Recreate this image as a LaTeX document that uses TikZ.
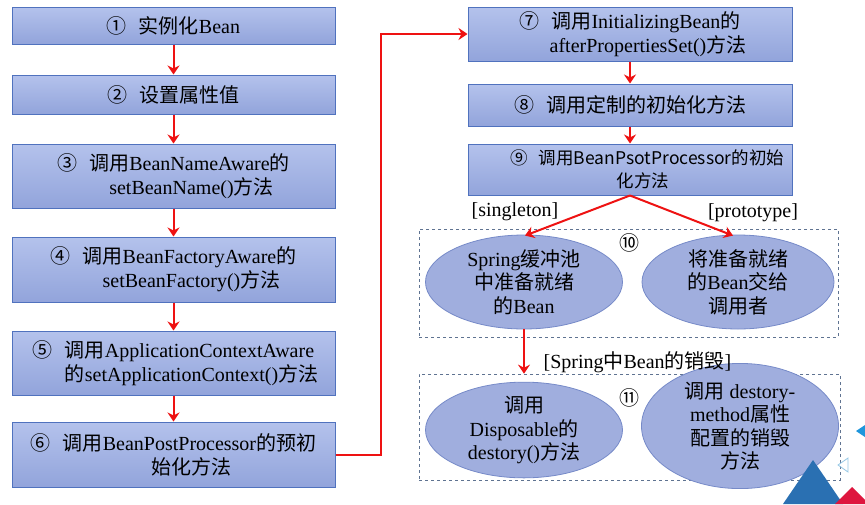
\documentclass[tikz,border=0pt]{standalone}
\usepackage{fontspec}
\setmainfont{Liberation Serif}
\newfontfamily\cjk{Noto Sans CJK SC}
\usetikzlibrary{arrows.meta,shapes.geometric}
\newcommand\zh[1]{{\cjk #1}}
\definecolor{boxtop}{RGB}{180,194,236}
\definecolor{boxbot}{RGB}{146,164,219}
\definecolor{boxline}{RGB}{80,114,190}
\definecolor{elfill}{RGB}{160,174,222}
\definecolor{elline}{RGB}{118,138,200}
\definecolor{arr}{RGB}{238,18,18}
\definecolor{dashc}{RGB}{95,115,145}
\definecolor{triblue}{RGB}{42,112,178}
\definecolor{trired}{RGB}{222,22,62}
\definecolor{tricyan}{RGB}{30,150,220}
\definecolor{trilight}{RGB}{150,200,230}
\tikzset{
  stepbox/.style={draw=boxline, line width=1pt, top color=boxtop, bottom color=boxbot,
    minimum width=323pt, inner sep=0pt, align=center, font=\fontsize{20}{24}\selectfont},
  ell/.style={ellipse, draw=elline, line width=0.8pt, fill=elfill, minimum width=197pt,
    minimum height=94pt, inner sep=0pt, align=center, font=\fontsize{20}{23.5}\selectfont},
  dashbox/.style={draw=dashc, dashed, line width=0.7pt, inner sep=0pt},
  lbl/.style={inner sep=0pt, font=\fontsize{20}{24}\selectfont},
  arrow/.style={draw=arr, line width=2pt, -{Stealth[length=9pt,width=12pt,inset=3pt]}},
}
\begin{document}
\begin{tikzpicture}[x=1pt,y=-1pt]
\fill[white] (0,0) rectangle (865,504);
\useasboundingbox (0,0) rectangle (865,504);
% left column
\node[stepbox, minimum height=37pt] (b1) at (173.5,25.5) {\zh{①\hspace{0.6em}实例化}Bean};
\node[stepbox, minimum height=39pt] (b2) at (173.5,94.5) {\zh{②\hspace{0.6em}设置属性值}};
\node[stepbox, minimum height=64pt] (b3) at (173.5,176) {\zh{③\hspace{0.6em}调用}BeanNameAware\zh{的}\\\hspace*{36pt}setBeanName()\zh{方法}};
\node[stepbox, minimum height=65pt] (b4) at (173.5,269.5) {\zh{④\hspace{0.6em}调用}BeanFactoryAware\zh{的}\\\hspace*{36pt}setBeanFactory()\zh{方法}};
\node[stepbox, minimum height=64pt] (b5) at (173.5,363) {\zh{⑤\hspace{0.6em}调用}ApplicationContextAware\\\hspace*{36pt}\zh{的}setApplicationContext()\zh{方法}};
\node[stepbox, minimum height=65pt] (b6) at (173.5,454.5) {\zh{⑥\hspace{0.6em}调用}BeanPostProcessor\zh{的预初}\\\hspace*{36pt}\zh{始化方法}};
% right column
\node[stepbox, minimum width=324pt, minimum height=54pt] (b7) at (630,34) {\zh{⑦\hspace{0.6em}调用}InitializingBean\zh{的}\\\hspace*{36pt}afterPropertiesSet()\zh{方法}};
\node[stepbox, minimum width=324pt, minimum height=42pt] (b8) at (630,105) {\zh{⑧\hspace{0.6em}调用定制的初始化方法}};
\node[stepbox, minimum width=324pt, minimum height=51pt, font=\cjk\fontsize{17.5}{23}\selectfont] (b9) at (630,169.5) {\hspace*{35pt}⑨\hspace{0.6em}调用BeanPsotProcessor的初始\\\hspace*{26pt}化方法};
% dashed groups
\node[dashbox, minimum width=419pt, minimum height=108pt] (d10) at (628.5,283) {};
\node[dashbox, minimum width=421pt, minimum height=106pt] (d11) at (629.5,427) {};
% ellipses
\node[ell] (e1) at (524,282) {Spring\zh{缓冲池}\\\zh{中准备就绪}\\\zh{的}Bean};
\node[ell, minimum width=192pt] (e2) at (738,282) {\zh{将准备就绪}\\\zh{的}Bean\zh{交给}\\\zh{调用者}};
\node[ell, minimum height=92pt] (e3) at (524,430) {\zh{调用}\\Disposable\zh{的}\\destory()\zh{方法}};
\node[ell, minimum height=97pt] (e4) at (740,426) {\zh{调用} destory-\\method\zh{属性}\\\zh{配置的销毁}\\\zh{方法}};
% labels
\node[lbl] (n10) at (629,243) {\zh{⑩}};
\node[lbl] (n11) at (629,398) {\zh{⑪}};
\node[lbl] (lsing) at (515,212) {[singleton]};
\node[lbl] (lproto) at (753,213) {[prototype]};
\node[lbl] (ldes) at (637.5,362) {[Spring\zh{中}Bean\zh{的销毁}]};
% arrows
\draw[arrow] (b1.south) -- (b2.north);
\draw[arrow] (b2.south) -- (b3.north);
\draw[arrow] (b3.south) -- (b4.north);
\draw[arrow] (b4.south) -- (b5.north);
\draw[arrow] (b5.south) -- (b6.north);
\draw[arrow] (b6.east) -- ++(45,0) |- (b7.west);
\draw[arrow] (b7.south) -- (b8.north);
\draw[arrow] (b8.south) -- (b9.north);
\coordinate (split) at (b9.south);
\draw[arrow] (split) -- ([xshift=1pt,yshift=-1pt]e1.north);
\draw[arrow] (split) -- ([xshift=-5pt,yshift=-1pt]e2.north);
\draw[arrow] (e1.south) -- (e1.south |- d11.north);
% decorative triangles
\fill[triblue] (783,504) -- (813,460) -- (843,504) -- cycle;
\fill[trired] (835,504) -- (852,487) -- (869,504) -- cycle;
\fill[tricyan] (856,431) -- (865,425) -- (865,437) -- cycle;
\draw[trilight, line width=0.8pt] (838,465) -- (848,458) -- (848,472) -- cycle;
\end{tikzpicture}
\end{document}
